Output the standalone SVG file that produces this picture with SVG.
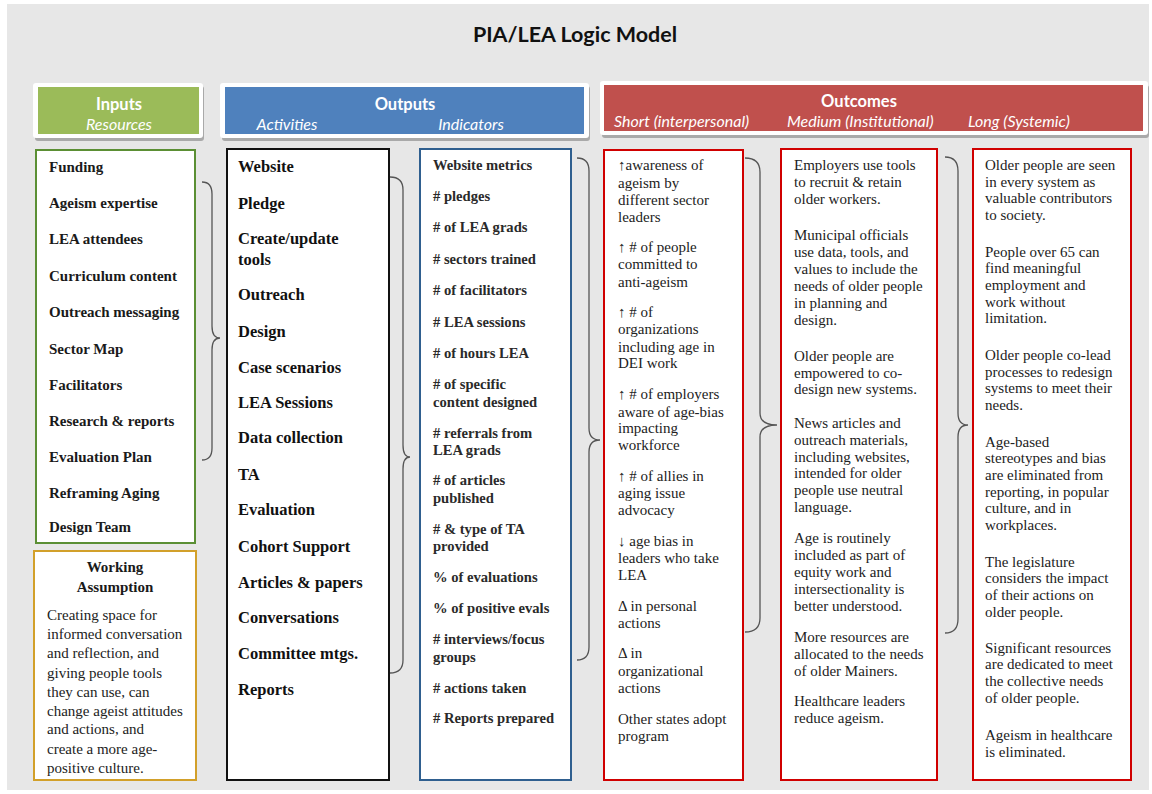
<svg xmlns="http://www.w3.org/2000/svg" width="1152" height="794" viewBox="0 0 1152 794">
  <style>
    .hd { font-family: Lato, "Open Sans", "Liberation Sans", sans-serif; fill: #ffffff; }
    .hd-main { font-size: 16.5px; font-weight: bold; }
    .hd-sub { font-size: 16px; font-style: italic; }
    .title { font-family: Lato, "Open Sans", "Liberation Sans", sans-serif; font-size: 21.5px; font-weight: bold; fill: #111; }
    .in { font-family: "Liberation Serif", "Times New Roman", serif; font-size: 15px; font-weight: bold; fill: #1a1a1a; }
    .act { font-family: "Liberation Serif", "Times New Roman", serif; font-size: 16.5px; font-weight: bold; fill: #111; }
    .ind { font-family: "Liberation Serif", "Times New Roman", serif; font-size: 14.6px; font-weight: bold; fill: #2a2a2a; }
    .out { font-family: "Liberation Serif", "Times New Roman", serif; font-size: 15px; fill: #222; }
    .wa { font-family: "Liberation Serif", "Times New Roman", serif; font-size: 15px; fill: #222; }
    .box { fill: #ffffff; stroke-width: 2; }
    .brace { fill: none; stroke: #555555; stroke-width: 1.3; }
  </style>

  <!-- canvas -->
  <rect x="0" y="0" width="1152" height="794" fill="#ffffff"/>
  <rect x="7" y="4" width="1142" height="786" fill="#e7e7e7"/>

  <text class="title" x="575" y="42" text-anchor="middle">PIA/LEA Logic Model</text>

  <!-- header bands -->
  <g id="header-inputs">
    <rect x="35" y="86" width="169" height="55" rx="3" fill="#a9a9a9"/>
    <rect x="33" y="83" width="170" height="55" rx="3" fill="#ffffff"/>
    <rect x="38" y="87" width="161" height="47" fill="#9bbb59"/>
    <text class="hd hd-main" x="119" y="110" text-anchor="middle">Inputs</text>
    <text class="hd hd-sub" x="119" y="130" text-anchor="middle">Resources</text>
  </g>
  <g id="header-outputs">
    <rect x="222" y="86" width="368" height="55" rx="3" fill="#a9a9a9"/>
    <rect x="220" y="83" width="369" height="55" rx="3" fill="#ffffff"/>
    <rect x="225" y="87" width="359" height="47" fill="#4f81bd"/>
    <text class="hd hd-main" x="405" y="110" text-anchor="middle">Outputs</text>
    <text class="hd hd-sub" x="287" y="130" text-anchor="middle">Activities</text>
    <text class="hd hd-sub" x="471" y="130" text-anchor="middle">Indicators</text>
  </g>
  <g id="header-outcomes">
    <rect x="602" y="85" width="547" height="53" rx="3" fill="#a9a9a9"/>
    <rect x="600" y="81" width="548" height="54" rx="3" fill="#ffffff"/>
    <rect x="604" y="85" width="539" height="46" fill="#c0504d"/>
    <text class="hd hd-main" x="859" y="107" text-anchor="middle">Outcomes</text>
    <text class="hd hd-sub" x="614" y="127">Short (interpersonal)</text>
    <text class="hd hd-sub" x="787" y="127">Medium (Institutional)</text>
    <text class="hd hd-sub" x="968" y="127">Long (Systemic)</text>
  </g>

  <!-- Inputs -->
  <g id="inputs">
    <rect class="box" x="36" y="150" width="159" height="393" stroke="#5b8f34"/>
    <text class="in" x="49" y="172">Funding</text>
    <text class="in" x="49" y="208">Ageism expertise</text>
    <text class="in" x="49" y="244">LEA attendees</text>
    <text class="in" x="49" y="281">Curriculum content</text>
    <text class="in" x="49" y="317">Outreach messaging</text>
    <text class="in" x="49" y="354">Sector Map</text>
    <text class="in" x="49" y="390">Facilitators</text>
    <text class="in" x="49" y="426">Research &amp; reports</text>
    <text class="in" x="49" y="462">Evaluation Plan</text>
    <text class="in" x="49" y="498">Reframing Aging</text>
    <text class="in" x="49" y="532">Design Team</text>
  </g>

  <!-- Working assumption -->
  <g id="working-assumption">
    <rect class="box" x="34" y="551" width="162" height="229" stroke="#d2a02a"/>
    <text class="in" x="115" y="572" text-anchor="middle">Working</text>
    <text class="in" x="115" y="592" text-anchor="middle">Assumption</text>
    <text class="wa" x="47" y="620">Creating space for</text>
    <text class="wa" x="47" y="639">informed conversation</text>
    <text class="wa" x="47" y="658">and reflection, and</text>
    <text class="wa" x="47" y="678">giving people tools</text>
    <text class="wa" x="47" y="697">they can use, can</text>
    <text class="wa" x="47" y="716">change ageist attitudes</text>
    <text class="wa" x="47" y="734">and actions, and</text>
    <text class="wa" x="47" y="754">create a more age-</text>
    <text class="wa" x="47" y="773">positive culture.</text>
  </g>

  <!-- Activities -->
  <g id="activities">
    <rect class="box" x="227" y="149" width="162" height="631" stroke="#111111" stroke-width="2.4"/>
    <text class="act" x="238" y="172">Website</text>
    <text class="act" x="238" y="209">Pledge</text>
    <text class="act" x="238" y="244">Create/update</text>
    <text class="act" x="238" y="265">tools</text>
    <text class="act" x="238" y="300">Outreach</text>
    <text class="act" x="238" y="337">Design</text>
    <text class="act" x="238" y="373">Case scenarios</text>
    <text class="act" x="238" y="408">LEA Sessions</text>
    <text class="act" x="238" y="443">Data collection</text>
    <text class="act" x="238" y="480">TA</text>
    <text class="act" x="238" y="515">Evaluation</text>
    <text class="act" x="238" y="552">Cohort Support</text>
    <text class="act" x="238" y="588">Articles &amp; papers</text>
    <text class="act" x="238" y="623">Conversations</text>
    <text class="act" x="238" y="659">Committee mtgs.</text>
    <text class="act" x="238" y="695">Reports</text>
  </g>

  <!-- Indicators -->
  <g id="indicators">
    <rect class="box" x="420" y="149" width="151" height="631" stroke="#2f5f8f"/>
    <text class="ind" x="433" y="170">Website metrics</text>
    <text class="ind" x="433" y="201"># pledges</text>
    <text class="ind" x="433" y="232"># of LEA grads</text>
    <text class="ind" x="433" y="264"># sectors trained</text>
    <text class="ind" x="433" y="295"># of facilitators</text>
    <text class="ind" x="433" y="327"># LEA sessions</text>
    <text class="ind" x="433" y="358"># of hours LEA</text>
    <text class="ind" x="433" y="389"># of specific</text>
    <text class="ind" x="433" y="407">content designed</text>
    <text class="ind" x="433" y="438"># referrals from</text>
    <text class="ind" x="433" y="455">LEA grads</text>
    <text class="ind" x="433" y="485"># of articles</text>
    <text class="ind" x="433" y="503">published</text>
    <text class="ind" x="433" y="534"># &amp; type of TA</text>
    <text class="ind" x="433" y="551">provided</text>
    <text class="ind" x="433" y="582">% of evaluations</text>
    <text class="ind" x="433" y="613">% of positive evals</text>
    <text class="ind" x="433" y="644"># interviews/focus</text>
    <text class="ind" x="433" y="662">groups</text>
    <text class="ind" x="433" y="693"># actions taken</text>
    <text class="ind" x="433" y="723"># Reports prepared</text>
  </g>

  <!-- Short-term outcomes -->
  <g id="outcomes-short">
    <rect class="box" x="604" y="150" width="139" height="630" stroke="#d00000"/>
    <text class="out" x="618" y="170">↑awareness of</text>
    <text class="out" x="618" y="188">ageism by</text>
    <text class="out" x="618" y="205">different sector</text>
    <text class="out" x="618" y="222">leaders</text>
    <text class="out" x="618" y="252">↑ # of people</text>
    <text class="out" x="618" y="269">committed to</text>
    <text class="out" x="618" y="287">anti-ageism</text>
    <text class="out" x="618" y="317">↑ # of</text>
    <text class="out" x="618" y="334">organizations</text>
    <text class="out" x="618" y="352">including age in</text>
    <text class="out" x="618" y="368">DEI work</text>
    <text class="out" x="618" y="399">↑ # of employers</text>
    <text class="out" x="618" y="417">aware of age-bias</text>
    <text class="out" x="618" y="433">impacting</text>
    <text class="out" x="618" y="450">workforce</text>
    <text class="out" x="618" y="481">↑ # of allies in</text>
    <text class="out" x="618" y="498">aging issue</text>
    <text class="out" x="618" y="515">advocacy</text>
    <text class="out" x="618" y="546">↓ age bias in</text>
    <text class="out" x="618" y="563">leaders who take</text>
    <text class="out" x="618" y="580">LEA</text>
    <text class="out" x="618" y="611">Δ in personal</text>
    <text class="out" x="618" y="628">actions</text>
    <text class="out" x="618" y="658">Δ in</text>
    <text class="out" x="618" y="676">organizational</text>
    <text class="out" x="618" y="693">actions</text>
    <text class="out" x="618" y="724">Other states adopt</text>
    <text class="out" x="618" y="741">program</text>
  </g>

  <!-- Medium-term outcomes -->
  <g id="outcomes-medium">
    <rect class="box" x="781" y="149" width="156" height="631" stroke="#d00000"/>
    <text class="out" x="794" y="170">Employers use tools</text>
    <text class="out" x="794" y="187">to recruit &amp; retain</text>
    <text class="out" x="794" y="204">older workers.</text>
    <text class="out" x="794" y="240">Municipal officials</text>
    <text class="out" x="794" y="257">use data, tools, and</text>
    <text class="out" x="794" y="274">values to include the</text>
    <text class="out" x="794" y="291">needs of older people</text>
    <text class="out" x="794" y="308">in planning and</text>
    <text class="out" x="794" y="325">design.</text>
    <text class="out" x="794" y="361">Older people are</text>
    <text class="out" x="794" y="378">empowered to co-</text>
    <text class="out" x="794" y="394">design new systems.</text>
    <text class="out" x="794" y="428">News articles and</text>
    <text class="out" x="794" y="445">outreach materials,</text>
    <text class="out" x="794" y="462">including websites,</text>
    <text class="out" x="794" y="478">intended for older</text>
    <text class="out" x="794" y="495">people use neutral</text>
    <text class="out" x="794" y="512">language.</text>
    <text class="out" x="794" y="543">Age is routinely</text>
    <text class="out" x="794" y="560">included as part of</text>
    <text class="out" x="794" y="577">equity work and</text>
    <text class="out" x="794" y="594">intersectionality is</text>
    <text class="out" x="794" y="611">better understood.</text>
    <text class="out" x="794" y="642">More resources are</text>
    <text class="out" x="794" y="659">allocated to the needs</text>
    <text class="out" x="794" y="676">of older Mainers.</text>
    <text class="out" x="794" y="706">Healthcare leaders</text>
    <text class="out" x="794" y="723">reduce ageism.</text>
  </g>

  <!-- Long-term outcomes -->
  <g id="outcomes-long">
    <rect class="box" x="973" y="149" width="158" height="631" stroke="#d00000"/>
    <text class="out" x="985" y="170">Older people are seen</text>
    <text class="out" x="985" y="187">in every system as</text>
    <text class="out" x="985" y="203">valuable contributors</text>
    <text class="out" x="985" y="220">to society.</text>
    <text class="out" x="985" y="257">People over 65 can</text>
    <text class="out" x="985" y="273">find meaningful</text>
    <text class="out" x="985" y="290">employment and</text>
    <text class="out" x="985" y="307">work without</text>
    <text class="out" x="985" y="323">limitation.</text>
    <text class="out" x="985" y="360">Older people co-lead</text>
    <text class="out" x="985" y="377">processes to redesign</text>
    <text class="out" x="985" y="393">systems to meet their</text>
    <text class="out" x="985" y="410">needs.</text>
    <text class="out" x="985" y="447">Age-based</text>
    <text class="out" x="985" y="463">stereotypes and bias</text>
    <text class="out" x="985" y="480">are eliminated from</text>
    <text class="out" x="985" y="497">reporting, in popular</text>
    <text class="out" x="985" y="513">culture, and in</text>
    <text class="out" x="985" y="530">workplaces.</text>
    <text class="out" x="985" y="567">The legislature</text>
    <text class="out" x="985" y="583">considers the impact</text>
    <text class="out" x="985" y="600">of their actions on</text>
    <text class="out" x="985" y="617">older people.</text>
    <text class="out" x="985" y="653">Significant resources</text>
    <text class="out" x="985" y="669">are dedicated to meet</text>
    <text class="out" x="985" y="686">the collective needs</text>
    <text class="out" x="985" y="703">of older people.</text>
    <text class="out" x="985" y="740">Ageism in healthcare</text>
    <text class="out" x="985" y="757">is eliminated.</text>
  </g>

  <!-- connectors: curly braces gathering each column into the next -->
  <g id="connectors">
    <path class="brace" d="M202,182 Q212,182 212,194 L212,326 Q212,338 220,338 Q212,338 212,350 L212,448 Q212,460 202,460"/>
    <path class="brace" d="M390,177 Q403,177 403,190 L403,445 Q403,457 410,457 Q403,457 403,469 L403,660 Q403,673 390,673"/>
    <path class="brace" d="M577,158 Q589,158 589,171 L589,428 Q589,440 600,440 Q589,440 589,452 L589,647 Q589,660 577,660"/>
    <path class="brace" d="M745,158 Q760,158 760,172 L760,413 Q760,425 777,425 Q760,425 760,437 L760,618 Q760,632 745,632"/>
    <path class="brace" d="M945,157 Q958,157 958,171 L958,413 Q958,425 968,425 Q958,425 958,437 L958,619 Q958,633 945,633"/>
  </g>
</svg>
